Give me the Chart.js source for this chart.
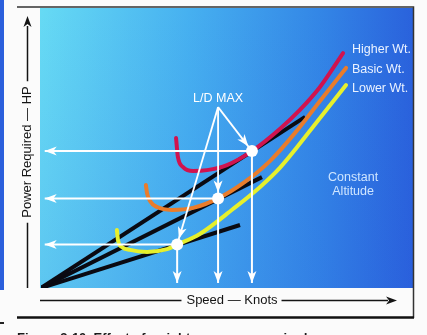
<!DOCTYPE html>
<html>
<head>
<meta charset="utf-8">
<script src="https://cdn.jsdelivr.net/npm/chart.js@4/dist/chart.umd.min.js"></script>
<style>
  html, body { margin: 0; padding: 0; background: #fbfbfb; overflow: hidden; }
  canvas { display: block; }
</style>
</head>
<body>
<canvas id="c" width="427" height="335"></canvas>
<script>
// Power required vs. true airspeed for three weights (schematic, 0–100 units)
const higherSpeed = [36.3, 36.8, 38.2, 40.9, 44.6, 50.0, 56.7, 64.2, 69.6, 75.0, 81.2];
const higherPower = [53.6, 46.8, 43.2, 41.8, 42.1, 43.9, 48.9, 56.8, 63.6, 71.8, 83.9];
const basicSpeed  = [28.2, 28.5, 29.3, 31.2, 35.2, 40.9, 47.6, 54.8, 61.6, 68.3, 75.0, 82.0];
const basicPower  = [36.8, 33.9, 31.1, 28.9, 27.9, 28.6, 32.0, 37.9, 45.4, 55.4, 66.8, 78.6];
const lowerSpeed  = [20.4, 20.7, 21.8, 23.9, 28.5, 33.9, 36.6, 42.7, 51.6, 58.9, 64.2, 73.1, 82.0];
const lowerPower  = [20.7, 17.1, 14.6, 13.6, 12.9, 13.9, 15.5, 19.3, 28.2, 36.1, 42.9, 57.5, 72.5];

// L/D max points (where a line from the origin touches each curve): higher, basic, lower
const ldSpeed = [56.7, 47.6, 36.6];
const ldPower = [48.9, 32.0, 15.5];

// far end of each tangent line drawn from the origin
const tangentEndSpeed = [71.0, 59.4, 53.5];
const tangentEndPower = [61.1, 39.6, 22.5];

const weightLabels = ['Higher Wt.', 'Basic Wt.', 'Lower Wt.'];
const ldLabel = 'L/D MAX';
const noteLines = ['Constant', 'Altitude'];
const xTitle = 'Speed \u2014 Knots';
const yTitle = 'Power Required \u2014 HP';
const caption = 'Figure 3-10. Effect of weight on power required.';

const xy = (xs, ys) => xs.map((x, i) => ({ x, y: ys[i] }));

const curveColors = ['#d0134f', '#e97c2b', '#e6f02c'];
const curves = [[higherSpeed, higherPower], [basicSpeed, basicPower], [lowerSpeed, lowerPower]];

const datasets = [];

// tangent lines from the origin
tangentEndSpeed.forEach((s, i) => {
  datasets.push({
    data: [{ x: 0, y: 0 }, { x: s, y: tangentEndPower[i] }],
    showLine: true, borderColor: '#0a0a12', borderWidth: 4, pointRadius: 0, order: 3
  });
});

// power-required curves
curves.forEach(([xs, ys], i) => {
  datasets.push({
    data: xy(xs, ys), showLine: true, borderColor: curveColors[i], borderWidth: 4,
    cubicInterpolationMode: 'monotone', pointRadius: 0, borderCapStyle: 'round', order: 2
  });
});

// pointer origin just under the L/D MAX label
const pointerFrom = { x: 47.6, y: 64.6 };
ldSpeed.forEach((s, i) => {
  const p = { x: s, y: ldPower[i] };
  // leftwards to the power axis
  datasets.push({ data: [p, { x: 1.0, y: p.y }], showLine: true, borderColor: '#ffffff',
    borderWidth: 2, pointRadius: 0, order: 1, arrow: true, inset: 0 });
  // downwards to the speed axis
  datasets.push({ data: [p, { x: p.x, y: 1.8 }], showLine: true, borderColor: '#ffffff',
    borderWidth: 2, pointRadius: 0, order: 1, arrow: true, inset: 0 });
  // from the label to the point
  datasets.push({ data: [pointerFrom, p], showLine: true, borderColor: '#ffffff',
    borderWidth: 1.8, pointRadius: 0, order: 1, arrow: true, inset: 6 });
});

// L/D max markers
datasets.push({
  data: xy(ldSpeed, ldPower), showLine: false, pointRadius: 6,
  pointBackgroundColor: '#ffffff', pointBorderWidth: 0, order: 0
});

function arrowHead(ctx, tx, ty, ux, uy, len, half) {
  const bx = tx - ux * len, by = ty - uy * len;
  const nx = -uy, ny = ux;
  ctx.beginPath();
  ctx.moveTo(tx, ty);
  ctx.lineTo(bx + nx * half, by + ny * half);
  ctx.lineTo(tx - ux * len * 0.72, ty - uy * len * 0.72);
  ctx.lineTo(bx - nx * half, by - ny * half);
  ctx.closePath();
  ctx.fill();
}

const decor = {
  id: 'decor',
  beforeDraw(chart) {
    const { ctx, chartArea: a, width, height } = chart;
    ctx.save();
    ctx.fillStyle = '#fbfbfb';
    ctx.fillRect(0, 0, width, height);
    // neighbouring page edge
    ctx.fillStyle = '#2b5fdc';
    ctx.fillRect(0, 0, 4, 290);
    ctx.fillStyle = '#222';
    ctx.fillRect(0, 322, 4, 2);
    // plot background
    const g = ctx.createLinearGradient(a.left, 0, a.right, 0);
    g.addColorStop(0, '#66daf4');
    g.addColorStop(0.4, '#46b0f0');
    g.addColorStop(0.75, '#3386e6');
    g.addColorStop(1, '#2a62dc');
    ctx.fillStyle = g;
    ctx.fillRect(a.left - 1, a.top, a.right - a.left + 1, a.bottom - a.top);
    const v = ctx.createLinearGradient(0, a.top, 0, a.bottom);
    v.addColorStop(0, 'rgba(40,80,220,0)');
    v.addColorStop(1, 'rgba(40,80,220,0.14)');
    ctx.fillStyle = v;
    ctx.fillRect(a.left - 1, a.top, a.right - a.left + 1, a.bottom - a.top);
    ctx.restore();
  },
  afterDatasetsDraw(chart) {
    const { ctx } = chart;
    ctx.save();
    ctx.fillStyle = '#ffffff';
    chart.data.datasets.forEach((ds, i) => {
      if (!ds.arrow) return;
      const pts = chart.getDatasetMeta(i).data;
      const a = pts[pts.length - 2], b = pts[pts.length - 1];
      const dx = b.x - a.x, dy = b.y - a.y, d = Math.hypot(dx, dy);
      const ux = dx / d, uy = dy / d;
      arrowHead(ctx, b.x - ux * ds.inset, b.y - uy * ds.inset, ux, uy, 12, 4.5);
    });
    ctx.restore();
  },
  afterDraw(chart) {
    const { ctx, scales: { x, y } } = chart;
    ctx.save();
    ctx.font = '12.5px "Liberation Sans", Arial, sans-serif';
    ctx.textBaseline = 'middle';

    // L/D MAX
    ctx.fillStyle = '#ffffff';
    ctx.textAlign = 'center';
    ctx.fillText(ldLabel, x.getPixelForValue(47.6), y.getPixelForValue(67.6));

    // weight labels beside the curve ends
    ctx.textAlign = 'left';
    ctx.fillStyle = '#eaf2ff';
    const labelY = [85.0, 77.9, 71.4];
    weightLabels.forEach((t, i) => ctx.fillText(t, x.getPixelForValue(83.6), y.getPixelForValue(labelY[i])));

    // constant altitude note
    ctx.textAlign = 'center';
    ctx.fillStyle = '#cfe6ff';
    ctx.fillText(noteLines[0], x.getPixelForValue(83.9), y.getPixelForValue(39.3));
    ctx.fillText(noteLines[1], x.getPixelForValue(83.9), y.getPixelForValue(34.6));

    // frame
    ctx.strokeStyle = '#333';
    ctx.lineWidth = 1.5;
    ctx.beginPath();
    ctx.moveTo(17, 7); ctx.lineTo(413.5, 7); ctx.lineTo(413.5, 318);
    ctx.stroke();
    ctx.strokeStyle = '#111';
    ctx.lineWidth = 2.5;
    ctx.beginPath();
    ctx.moveTo(17, 317.5); ctx.lineTo(414, 317.5);
    ctx.stroke();

    // axis titles with arrows
    ctx.fillStyle = '#141414';
    ctx.strokeStyle = '#141414';
    ctx.lineWidth = 1.5;
    ctx.font = '13px "Liberation Sans", Arial, sans-serif';
    // speed
    const xw = ctx.measureText(xTitle).width;
    const xc = 232, xyp = 300;
    ctx.textAlign = 'center';
    ctx.fillText(xTitle, xc, xyp);
    ctx.beginPath();
    ctx.moveTo(40, xyp + 0.5); ctx.lineTo(xc - xw / 2 - 5, xyp + 0.5);
    ctx.moveTo(xc + xw / 2 + 4, xyp + 0.5); ctx.lineTo(388, xyp + 0.5);
    ctx.stroke();
    arrowHead(ctx, 397, xyp + 0.5, 1, 0, 11, 4);
    // power
    const yw = ctx.measureText(yTitle).width;
    const yc = 152, yx = 27;
    ctx.save();
    ctx.translate(yx, yc);
    ctx.rotate(-Math.PI / 2);
    ctx.fillText(yTitle, 0, 0);
    ctx.restore();
    ctx.beginPath();
    ctx.moveTo(yx + 0.5, 288); ctx.lineTo(yx + 0.5, yc + yw / 2 + 5);
    ctx.moveTo(yx + 0.5, yc - yw / 2 - 5); ctx.lineTo(yx + 0.5, 26);
    ctx.stroke();
    arrowHead(ctx, yx + 0.5, 16, 0, -1, 11, 4);

    // caption
    ctx.font = 'bold 13px "Liberation Sans", Arial, sans-serif';
    ctx.textAlign = 'left';
    ctx.textBaseline = 'alphabetic';
    ctx.fillStyle = '#1a1a1a';
    ctx.fillText(caption, 17, 342);
    ctx.restore();
  }
};

new Chart(document.getElementById('c'), {
  type: 'scatter',
  data: { datasets },
  options: {
    responsive: false,
    animation: false,
    layout: { padding: { left: 41, right: 14, top: 8, bottom: 47 } },
    scales: {
      x: { type: 'linear', min: 0, max: 100, display: false },
      y: { type: 'linear', min: 0, max: 100, display: false }
    },
    plugins: { legend: { display: false }, tooltip: { enabled: false } },
    events: []
  },
  plugins: [decor]
});
</script>
</body>
</html>
